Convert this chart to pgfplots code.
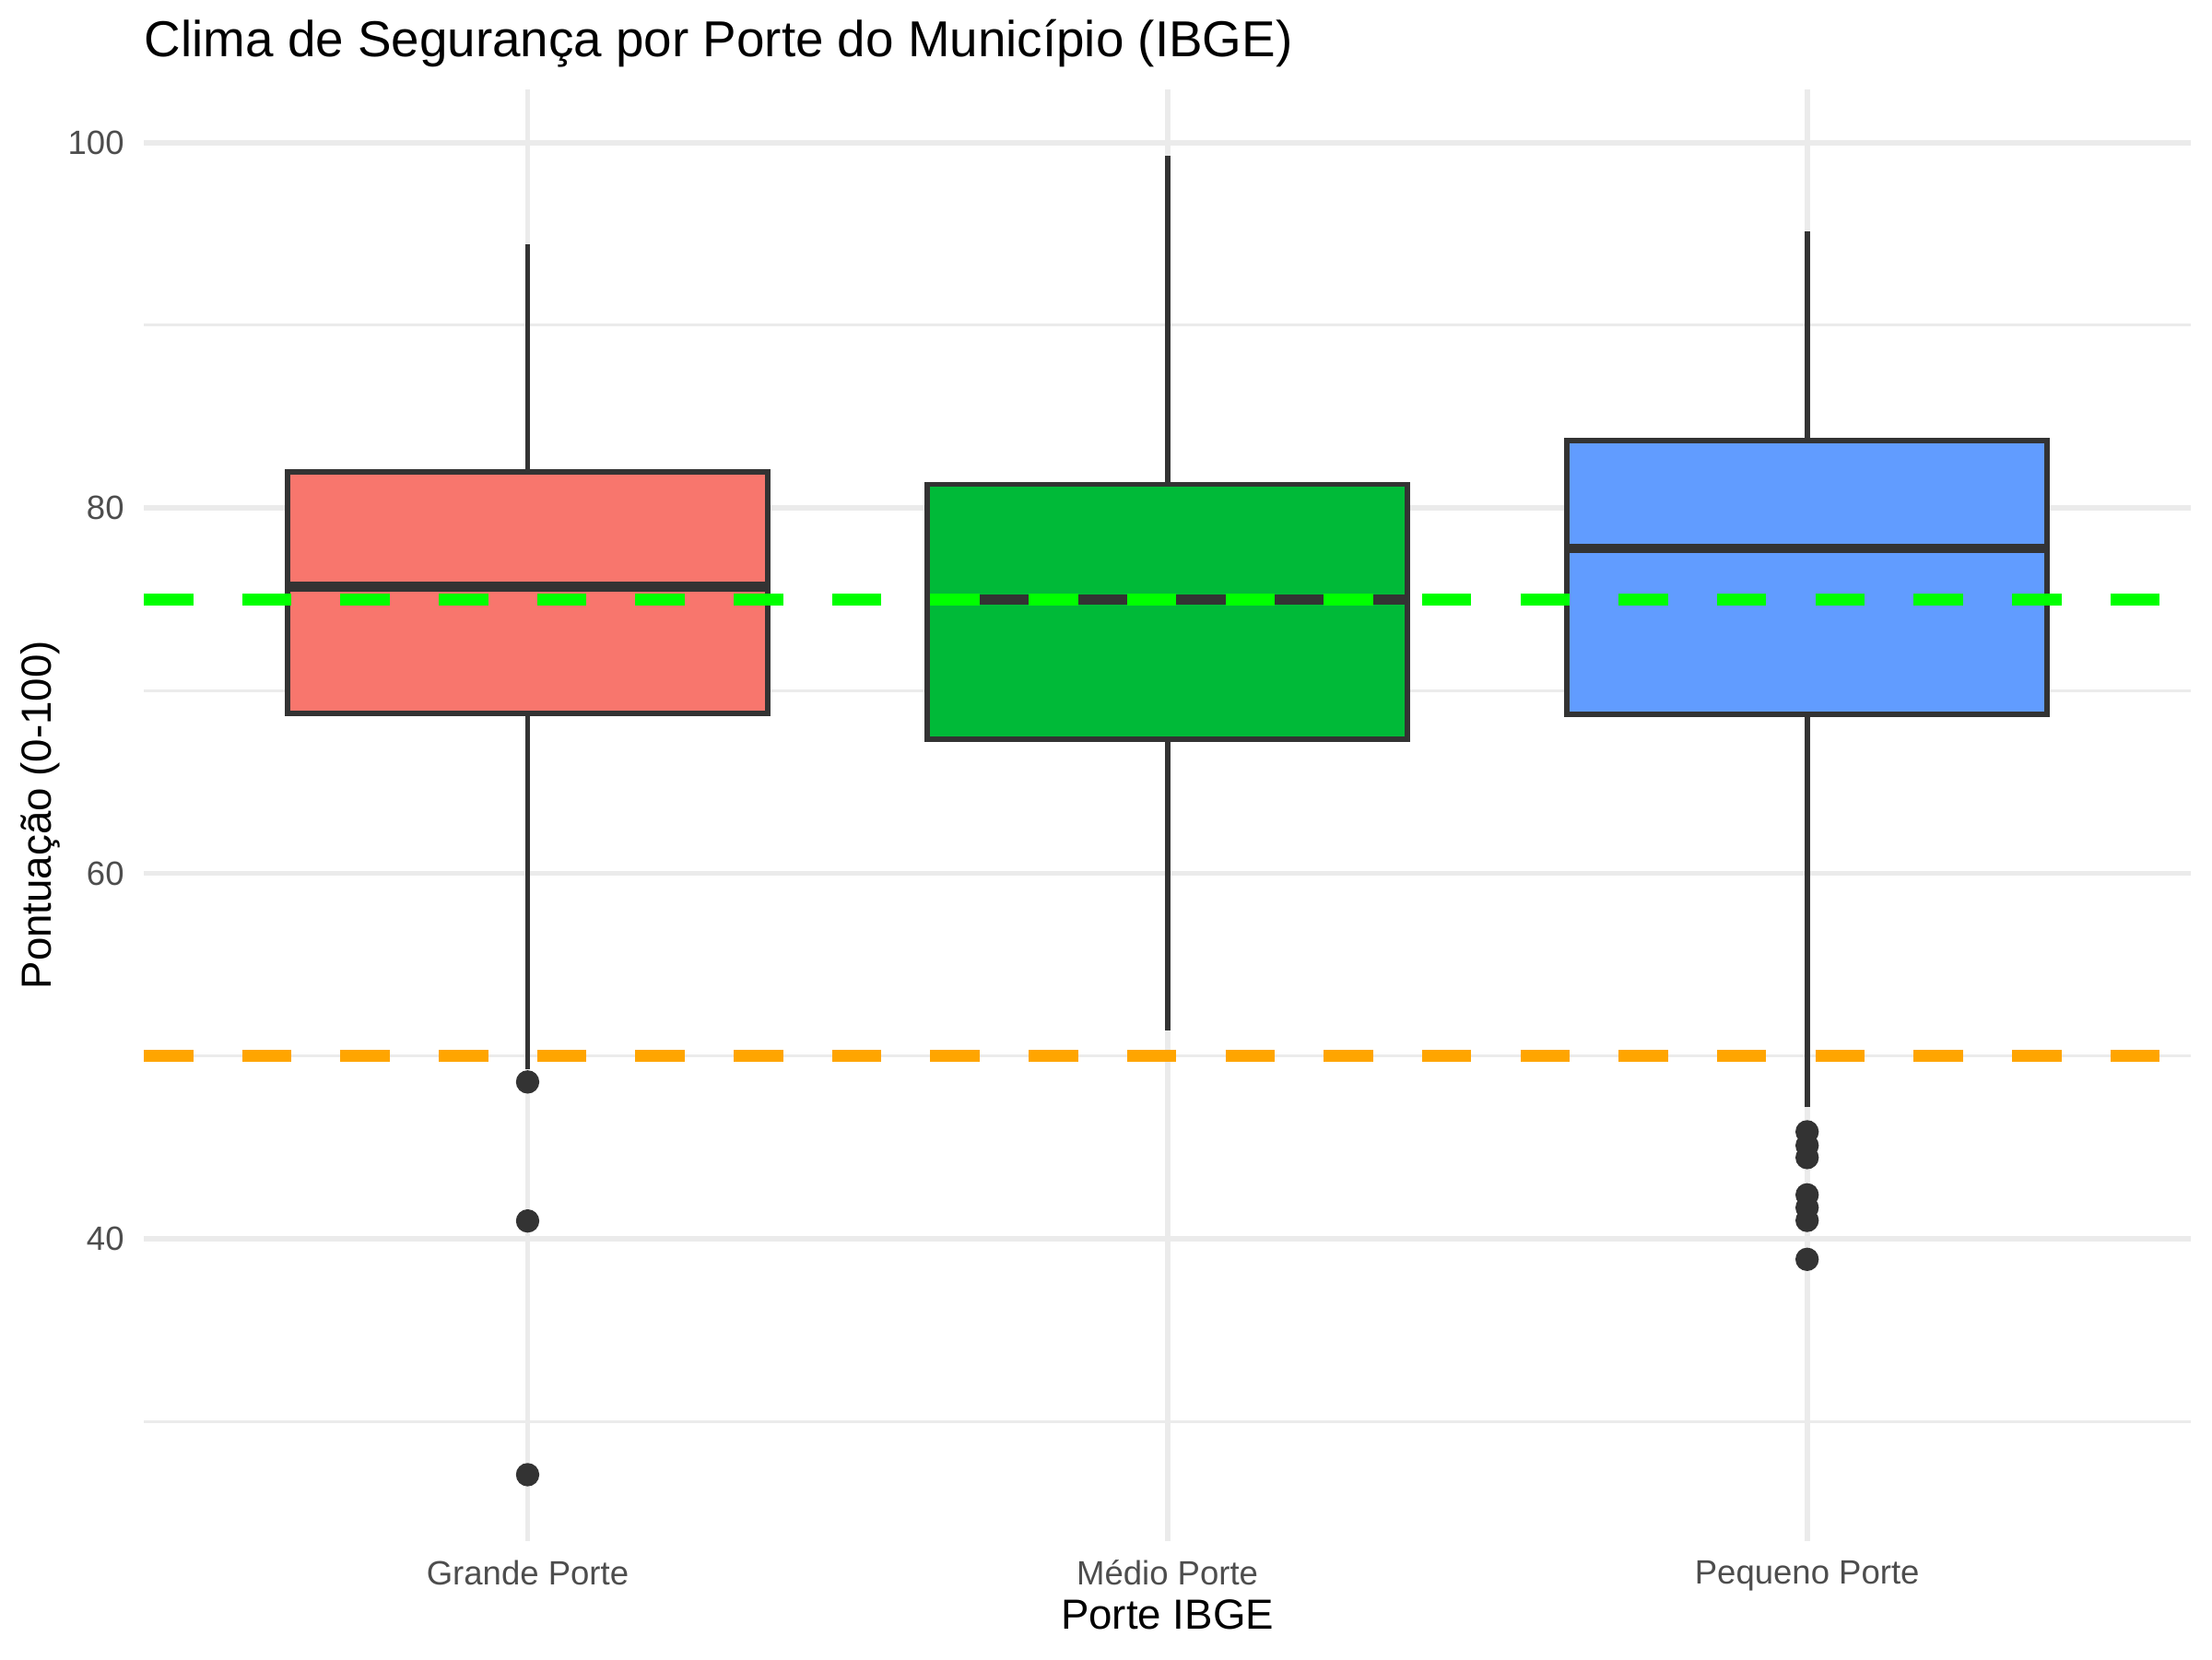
\documentclass[border=0pt]{standalone}
\usepackage{fontspec}
\setmainfont{Liberation Sans}
\usepackage{pgfplots}
\pgfplotsset{compat=1.18}
\usepgfplotslibrary{statistics}
\definecolor{c333}{HTML}{333333}
\definecolor{cred}{HTML}{F8766D}
\definecolor{cgreen}{HTML}{00BA38}
\definecolor{cblue}{HTML}{619CFF}
\definecolor{gridc}{HTML}{EBEBEB}
\definecolor{tickc}{HTML}{4D4D4D}
\definecolor{hgreen}{HTML}{00FF00}
\definecolor{horange}{HTML}{FFA500}
\begin{document}
\begin{tikzpicture}
\path[use as bounding box] (0,0) rectangle (578.16pt,433.62pt);
\begin{axis}[
  at={(37.58pt,30.95pt)}, anchor=south west,
  scale only axis, width=535.08pt, height=379.3pt,
  xmin=0.4, xmax=3.6, ymin=23.47, ymax=102.91,
  axis line style={draw=none},
  major tick length=0pt, minor tick length=0pt,
  xtick={1,2,3}, xticklabels={Grande Porte, Médio Porte, Pequeno Porte},
  ytick={40,60,80,100}, minor ytick={30,50,70,90},
  xmajorgrids=true, ymajorgrids=true, yminorgrids=true,
  major grid style={draw=gridc, line width=1.42pt},
  minor grid style={draw=gridc, line width=0.71pt},
  tick label style={font=\fontsize{8.8}{10.5}\selectfont, text=tickc, inner sep=0pt},
  yticklabel style={anchor=east, xshift=-4.95pt},
  xticklabel style={anchor=north, yshift=-4.95pt},
  /pgf/number format/assume math mode=true,
  clip=true,
  boxplot/draw direction=y,
]
\addplot[boxplot prepared={draw position=1, lower whisker=49.3, lower quartile=68.75, median=75.68, upper quartile=81.98, upper whisker=94.43, box extend=0.75, whisker extend=0},
  draw=c333, line width=1.42pt, fill=cred, mark=*, mark size=2.33pt, mark options={draw=none, fill=c333},
  boxplot/every median/.style={line width=2.6pt}]
  coordinates {(1,48.58) (1,40.97) (1,27.08)};
\addplot[boxplot prepared={draw position=2, lower whisker=51.38, lower quartile=67.35, median=75.0, upper quartile=81.29, upper whisker=99.3, box extend=0.75, whisker extend=0},
  draw=c333, line width=1.42pt, fill=cgreen, mark=*, mark size=2.33pt, mark options={draw=none, fill=c333},
  boxplot/every median/.style={line width=2.6pt}]
  coordinates {};
\addplot[boxplot prepared={draw position=3, lower whisker=47.2, lower quartile=68.70, median=77.78, upper quartile=83.69, upper whisker=95.14, box extend=0.75, whisker extend=0},
  draw=c333, line width=1.42pt, fill=cblue, mark=*, mark size=2.33pt, mark options={draw=none, fill=c333},
  boxplot/every median/.style={line width=2.6pt}]
  coordinates {(3,45.85) (3,45.1) (3,44.44) (3,42.4) (3,41.7) (3,41.0) (3,38.87)};
\addplot[hgreen, line width=3.1pt, dash pattern=on 12.9pt off 12.8pt] coordinates {(0.4,75) (3.6,75)};
\addplot[horange, line width=3.1pt, dash pattern=on 12.9pt off 12.8pt] coordinates {(0.4,50) (3.6,50)};
\end{axis}
\node[anchor=base west, inner sep=0pt, font=\fontsize{13.2}{15}\selectfont] at (37.58pt,418.7pt) {Clima de Segurança por Porte do Município (IBGE)};
\node[anchor=base, inner sep=0pt, font=\fontsize{11}{13}\selectfont] at (305.12pt,7.9pt) {Porte IBGE};
\node[anchor=base, rotate=90, inner sep=0pt, font=\fontsize{11}{13}\selectfont] at (13.25pt,220.6pt) {Pontuação (0-100)};
\end{tikzpicture}
\end{document}
